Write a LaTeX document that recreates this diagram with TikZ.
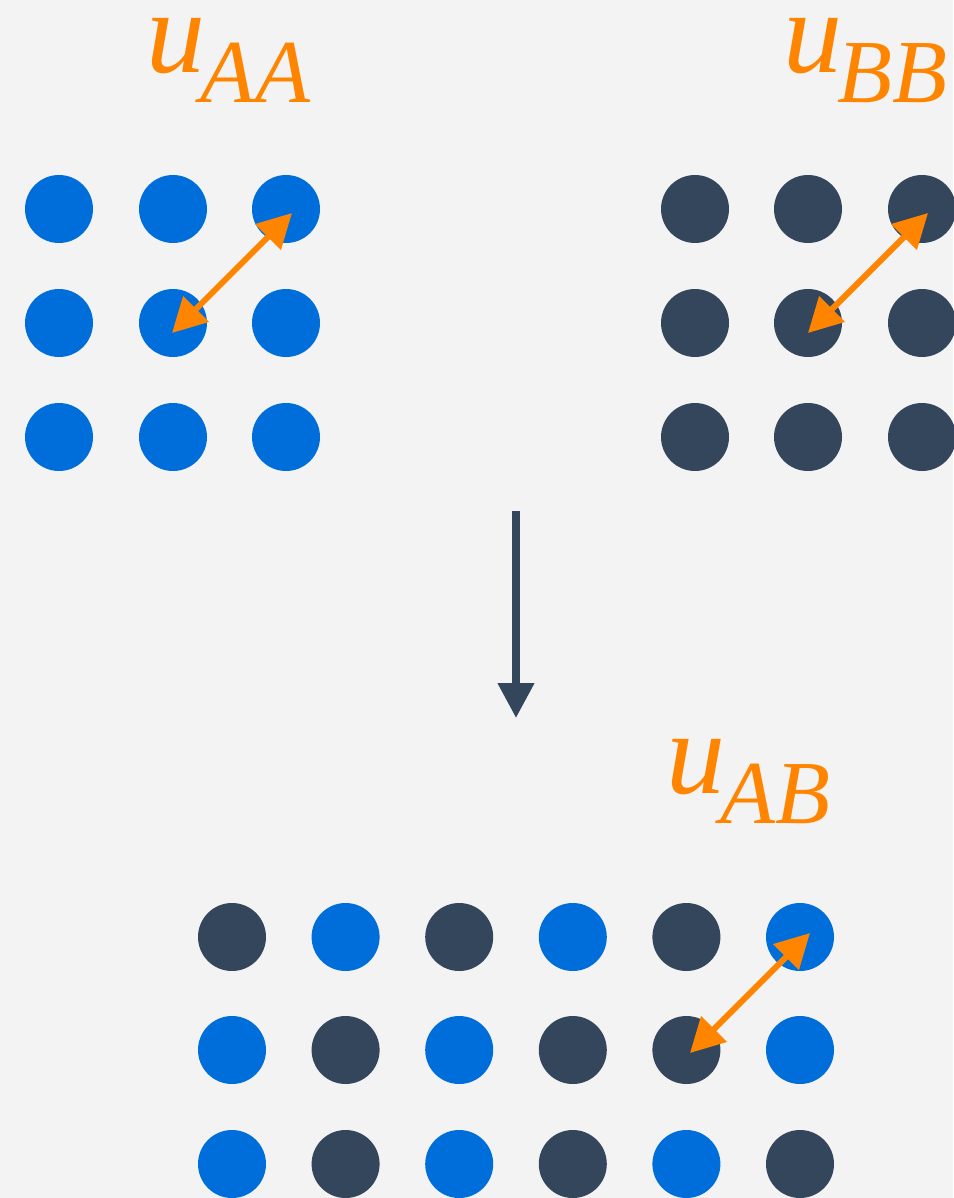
\documentclass[tikz,border=0pt]{standalone}
\usepackage{fontspec}
\setmainfont{Liberation Serif}
\usetikzlibrary{arrows.meta}
\definecolor{bgc}{HTML}{F3F3F3}
\definecolor{atomA}{HTML}{006EDA}
\definecolor{atomB}{HTML}{34465B}
\definecolor{bond}{HTML}{FF8500}
\newcommand{\subsc}[1]{\kern-5pt\raisebox{-30pt}{\fontsize{90}{90}\selectfont #1}}
\begin{document}
\begin{tikzpicture}[x=1pt,y=-1pt,
  atom/.style={circle,inner sep=0pt,minimum size=68pt},
  adot/.style={atom,fill=atomA},
  bdot/.style={atom,fill=atomB},
  pairline/.style={bond,line width=6pt,{Triangle[length=34pt,width=35pt]}-{Triangle[length=34pt,width=35pt]}},
  mixarrow/.style={atomB,line width=7.5pt,-{Triangle[length=35pt,width=35pt]}},
  energy/.style={text=bond,inner sep=0pt,anchor=base west,font=\itshape\fontsize{118}{118}\selectfont}]
% background and page size
\fill[bgc] (0,0) rectangle (953,1198);
\useasboundingbox (0,0) rectangle (953,1198);

% pure A lattice
\foreach \i/\x in {1/59,2/173,3/286}
  \foreach \j/\y in {1/209,2/323,3/437}
    \node[adot] (a\i\j) at (\x,\y) {};
% pure B lattice
\foreach \i/\x in {1/695,2/808,3/922}
  \foreach \j/\y in {1/209,2/323,3/437}
    \node[bdot] (b\i\j) at (\x,\y) {};
% mixed AB lattice: species listed row by row
\foreach \j/\y/\row in {1/937/{b,a,b,a,b,a},2/1050/{a,b,a,b,b,a},3/1164/{a,b,a,b,a,b}}
  \foreach \s [count=\i] in \row {
    \pgfmathsetmacro{\xpos}{232+113.6*(\i-1)}
    \node[\s dot] (m\i\j) at (\xpos,\y) {};
  }

% pair-interaction arrows
\coordinate (aa1) at (172,333);
\coordinate (aa2) at (292,213);
\coordinate (bb1) at (808,333);
\coordinate (bb2) at (928,213);
\coordinate (ab1) at (690,1053);
\coordinate (ab2) at (810,933);
\draw[pairline] (aa1) -- (aa2);
\draw[pairline] (bb1) -- (bb2);
\draw[pairline] (ab1) -- (ab2);

% mixing arrow
\coordinate (mixtop) at (516,511);
\coordinate (mixbot) at (516,718);
\draw[mixarrow] (mixtop) -- (mixbot);

% energy labels
\node[energy] (uaa) at (146,73) {u\subsc{AA}};
\node[energy] (ubb) at (783,73) {u\subsc{BB}};
\node[energy] (uab) at (666,793) {u\subsc{AB}};
\end{tikzpicture}
\end{document}
